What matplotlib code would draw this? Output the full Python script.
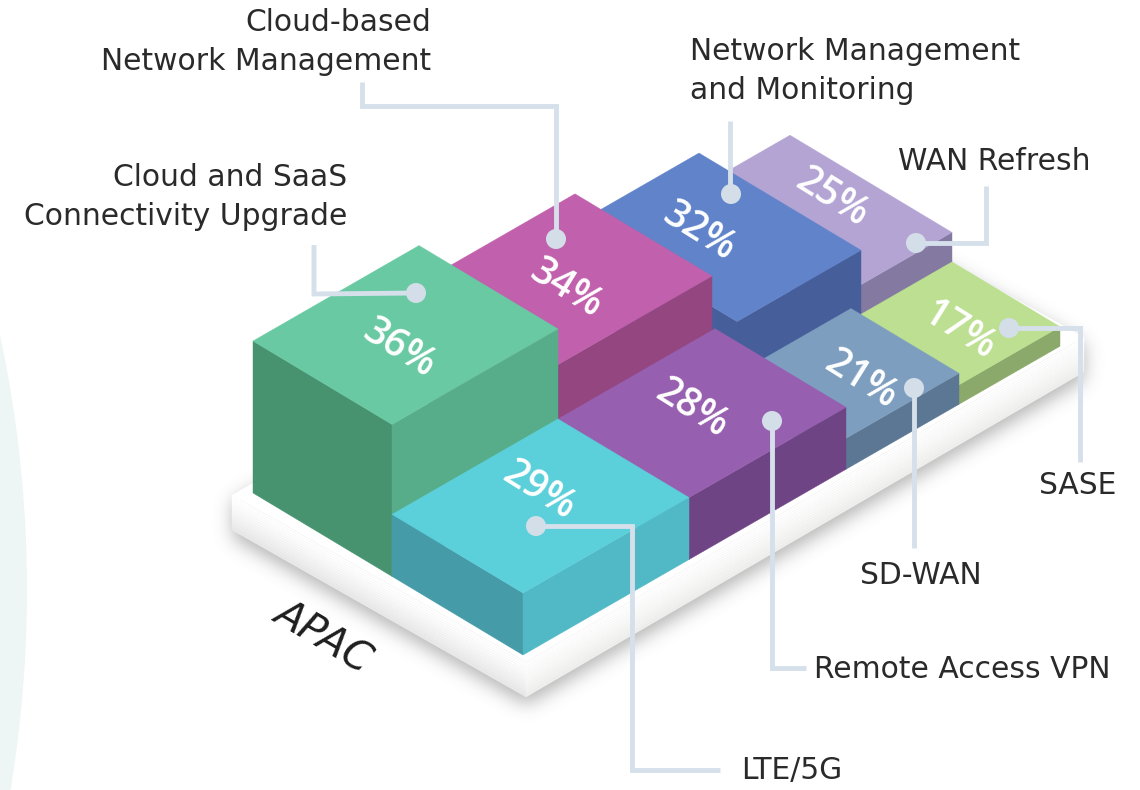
import numpy as np
import matplotlib
matplotlib.use('Agg')
import matplotlib.pyplot as plt
from matplotlib.patches import Polygon, Circle
from matplotlib.path import Path

# values, back row first so later bars cover earlier ones
names = ['WAN Refresh', 'Network Management\nand Monitoring', 'SASE',
         'Cloud-based\nNetwork Management', 'SD-WAN',
         'Cloud and SaaS\nConnectivity Upgrade', 'Remote Access VPN', 'LTE/5G']
values = [25, 32, 17, 34, 21, 36, 28, 29]
region = 'APAC'

# footprint on the plate (in px along each iso axis) and drawn height
u0 = [446, 322, 436, 166, 323, 0, 166, 0]
u1 = [537, 446, 537, 322, 436, 166, 323, 166]
v0 = [0, 0, 162, 0, 162, 0, 139, 139]
v1 = [162, 162, 270, 137, 270, 139, 270, 270]
heights = [49, 83.5, 19.5, 114, 31, 152, 62, 62]

top_col = ['#B3A4D4', '#6083CA', '#BCDF91', '#C160AC', '#7E9EC0', '#69C9A3', '#975FAF', '#5CD0DA']
left_col = ['#8479A0', '#465E9A', '#8BA96A', '#934680', '#5B7793', '#47936F', '#6F4485', '#459BA8']
right_col = ['#8479A0', '#465E9A', '#8BA96A', '#934680', '#5B7793', '#57AD89', '#6F4485', '#51B9C6']

# where the percent text sits
pct_x = [832, 699, 958, 566, 861, 399, 692, 539]
pct_y = [198, 232, 331, 289, 380, 349, 409, 491]

# label anchors and leader lines, pixels
label_x = [1090, 690, 1116, 431, 982, 347, 814, 741]
label_y = [162, 71, 486, 42, 576, 197, 669, 771]
label_ha = ['right', 'left', 'right', 'right', 'right', 'right', 'left', 'left']
leaders = [
    [(986, 186), (986, 243), (916, 243)],
    [(730, 121), (730, 194)],
    [(1009, 328), (1080, 328), (1080, 462)],
    [(362, 82), (362, 106), (556, 106), (556, 239)],
    [(914, 388), (914, 548)],
    [(314, 245), (314, 294), (416, 293)],
    [(772, 421), (772, 668), (806, 668)],
    [(536, 526), (632, 526), (632, 770), (720, 770)],
]
dots = [(916, 243), (731, 194), (1009, 328), (556, 239), (914, 388), (416, 293), (772, 421), (536, 526)]

INK = '#2A2A2A'
LINE = '#D5E0EB'


def iso(u, v, h=0):
    return (253 + u + v, 493 - 0.575 * u + 0.6 * v - h)


def mix(c1, c2, t):
    a = np.array(matplotlib.colors.to_rgb(c1))
    b = np.array(matplotlib.colors.to_rgb(c2))
    return tuple(a + (b - a) * t)


fig = plt.figure(figsize=(11.4, 7.9), dpi=100)
ax = fig.add_axes([0, 0, 1, 1])
ax.set_xlim(0, 1140)
ax.set_ylim(790, 0)
ax.axis('off')

# pale arc on the left edge
ax.add_patch(Circle((-1190.7, 590), 1217.7, color='#EEF5F5', lw=0, zorder=0))

# plate shadow
left, bottom, right, rear = (232, 495), (526, 662), (1084, 337), (790, 174)
depth = 35
outline = [left, (left[0], left[1] + depth), (bottom[0], bottom[1] + depth),
           (right[0], right[1] + depth), right, rear]
xx, yy = np.meshgrid(np.arange(1140), np.arange(790))
pts = np.column_stack([xx.ravel(), yy.ravel() - 7])
mask = Path(outline).contains_points(pts).reshape(790, 1140).astype(float)
k = np.exp(-0.5 * (np.arange(-30, 31) / 9) ** 2)
k /= k.sum()
mask = np.apply_along_axis(lambda r: np.convolve(r, k, mode='same'), 0, mask)
mask = np.apply_along_axis(lambda r: np.convolve(r, k, mode='same'), 1, mask)
rgba = np.zeros((790, 1140, 4))
rgba[..., :3] = 0.3
rgba[..., 3] = mask * 0.42
ax.imshow(rgba, extent=(0, 1140, 790, 0), aspect='auto', zorder=1)
ax.set_xlim(0, 1140)
ax.set_ylim(790, 0)

# plate: top then the two sides as gradient strips
ax.add_patch(Polygon([left, bottom, right, rear], fc='white', lw=0, zorder=2))
n = 14
for i in range(n):
    t0, t1 = i / n * depth, (i + 1) / n * depth
    f = i / (n - 1)
    c_left = mix('#FFFFFF', '#E9E9E9', f ** 1.5)
    c_right = mix('#FFFFFF', '#EFEFED', f ** 1.5)
    ax.add_patch(Polygon([(left[0], left[1] + t0), (bottom[0], bottom[1] + t0),
                          (bottom[0], bottom[1] + t1), (left[0], left[1] + t1)],
                         fc=c_left, ec=c_left, lw=0.3, zorder=2))
    ax.add_patch(Polygon([(bottom[0], bottom[1] + t0), (right[0], right[1] + t0),
                          (right[0], right[1] + t1), (bottom[0], bottom[1] + t1)],
                         fc=c_right, ec=c_right, lw=0.3, zorder=2))

# bars
for i in range(len(values)):
    a, b, c, d, h = u0[i], u1[i], v0[i], v1[i], heights[i]
    top = [iso(a, c, h), iso(b, c, h), iso(b, d, h), iso(a, d, h)]
    front_left = [iso(a, c, h), iso(a, d, h), iso(a, d), iso(a, c)]
    front_right = [iso(a, d, h), iso(b, d, h), iso(b, d), iso(a, d)]
    z = 3 + i * 0.1
    ax.add_patch(Polygon(front_left, fc=left_col[i], ec=left_col[i], lw=0.3, zorder=z))
    ax.add_patch(Polygon(front_right, fc=right_col[i], ec=right_col[i], lw=0.3, zorder=z))
    ax.add_patch(Polygon(top, fc=top_col[i], ec=top_col[i], lw=0.3, zorder=z))
    ax.text(pct_x[i], pct_y[i], f'{values[i]}%', color='white', fontsize=28, fontweight='semibold',
            family='Open Sans', rotation=-32, rotation_mode='anchor',
            ha='center', va='center', zorder=6)

# leaders, dots and labels
for line in leaders:
    xs, ys = zip(*line)
    ax.plot(xs, ys, color=LINE, lw=3.5, solid_joinstyle='miter', solid_capstyle='butt', zorder=7)
for x, y in dots:
    ax.add_patch(Circle((x, y), 10, fc='#D3DEE8', lw=0, zorder=8))

for i in range(len(names)):
    ax.text(label_x[i], label_y[i], names[i], color=INK, fontsize=21.4, family='DejaVu Sans',
            ha=label_ha[i], va='center', linespacing=1.4, zorder=9)

ax.text(323, 636, region, color='#1E1E1E', fontsize=29, family='DejaVu Sans', style='italic',
        rotation=-30.5, rotation_mode='anchor', ha='center', va='center', zorder=9)

fig.savefig('out.png', dpi=100)
